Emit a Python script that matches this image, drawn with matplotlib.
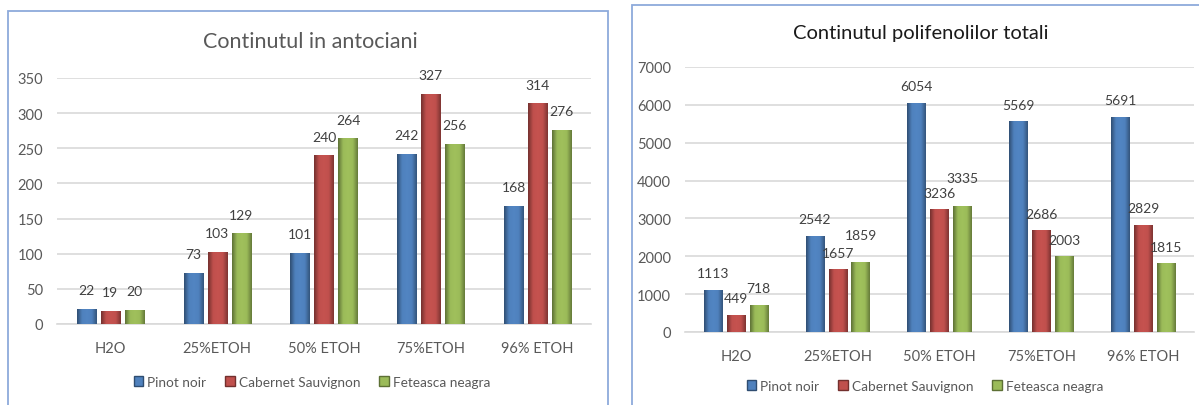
import numpy as np
import matplotlib
matplotlib.use("Agg")
import matplotlib.pyplot as plt
from matplotlib.colors import LinearSegmentedColormap, to_rgb
from matplotlib.patches import Rectangle, Patch

plt.rcParams["font.family"] = ["Lato", "DejaVu Sans"]

categories = ["H2O", "25%ETOH", "50% ETOH", "75%ETOH", "96% ETOH"]
series_names = ["Pinot noir", "Cabernet Sauvignon", "Feteasca neagra"]

antociani_pinot = [22, 73, 101, 242, 168]
antociani_cabernet = [19, 103, 240, 327, 314]
antociani_feteasca = [20, 129, 264, 256, 276]

polifenoli_pinot = [1113, 2542, 6054, 5569, 5691]
polifenoli_cabernet = [449, 1657, 3236, 2686, 2829]
polifenoli_feteasca = [718, 1859, 3335, 2003, 1815]

colors = ["#4F81BD", "#C0504D", "#9BBB59"]
text_gray = "#595959"
label_gray = "#404040"
frame_blue = "#8EAADB"


def shade(c, f):
    r, g, b = to_rgb(c)
    return (min(r * f, 1), min(g * f, 1), min(b * f, 1))


def bevel_bars(ax, bars, color):
    # horizontal gradient to fake the Excel bevel look
    cmap = LinearSegmentedColormap.from_list(
        "bev", [shade(color, 0.6), color, shade(color, 1.03), color, shade(color, 0.65)])
    grad = np.linspace(0, 1, 64).reshape(1, -1)
    for p in bars:
        x0, y0 = p.get_x(), p.get_y()
        w, h = p.get_width(), p.get_height()
        p.set_facecolor("none")
        p.set_edgecolor("none")
        im = ax.imshow(grad, cmap=cmap, aspect="auto", extent=[x0, x0 + w, y0, y0 + h],
                       interpolation="bicubic", zorder=3)
        im.set_clip_path(p)


def draw_chart(ax, data, ymax, ystep, label_off, nudges=None):
    nudges = nudges or {}
    x = np.arange(len(categories))
    width = 0.18
    step = 0.225
    for i, (vals, c) in enumerate(zip(data, colors)):
        bars = ax.bar(x + (i - 1) * step, vals, width, color=c, zorder=3)
        bevel_bars(ax, bars, c)
        for j, (xi, v) in enumerate(zip(x + (i - 1) * step, vals)):
            ax.annotate(str(v), (xi, v), xytext=(0, label_off + nudges.get((j, i), 0)),
                        textcoords="offset points",
                        ha="center", va="center", fontsize=10, color=label_gray)
    ax.set_xlim(-0.5, len(categories) - 0.5)
    ax.set_ylim(0, ymax)
    ax.set_yticks(np.arange(0, ymax + 1, ystep))
    ax.set_xticks(x)
    ax.set_xticklabels(categories)
    ax.yaxis.grid(True, color="#D9D9D9", linewidth=1.2, zorder=0)
    ax.set_axisbelow(True)
    for s in ["top", "right", "left"]:
        ax.spines[s].set_visible(False)
    ax.spines["bottom"].set_color("#D9D9D9")
    ax.spines["bottom"].set_linewidth(1.2)
    ax.tick_params(axis="both", length=0, colors=text_gray, labelsize=10.5)
    ax.tick_params(axis="x", pad=12)
    ax.tick_params(axis="y", pad=10)


fig = plt.figure(figsize=(11.99, 4.06), dpi=100)
W, H = 1199, 406

# frames around each chart
fig.patches.append(Rectangle((8 / W, -0.02), 600 / W, (406 - 12) / H + 0.02,
                             transform=fig.transFigure, fill=False, edgecolor=frame_blue, linewidth=1.3))
fig.patches.append(Rectangle((632 / W, -0.02), 600 / W, (406 - 6) / H + 0.02,
                             transform=fig.transFigure, fill=False, edgecolor=frame_blue, linewidth=1.3))

ax1 = fig.add_axes([57 / W, (H - 325) / H, (591 - 57) / W, (325 - 79) / H])
draw_chart(ax1, [antociani_pinot, antociani_cabernet, antociani_feteasca], 350, 50, 13.5)
ax2 = fig.add_axes([685 / W, (H - 333) / H, (1194 - 685) / W, (333 - 68) / H])
draw_chart(ax2, [polifenoli_pinot, polifenoli_cabernet, polifenoli_feteasca], 7000, 1000, 12,
           nudges={(1, 2): 7, (2, 2): 8})

fig.text(310 / W, 1 - 42 / H, "Continutul in antociani", ha="center", va="center",
         fontsize=15.5, color=text_gray)
fig.text(921 / W, 1 - 34 / H, "Continutul polifenolilor totali", ha="center", va="center",
         fontsize=14.5, color="#1a1a1a")

handles = [Patch(facecolor=c, edgecolor=shade(c, 0.6)) for c in colors]
for cx, cy in [(312, 383), (925, 387)]:
    fig.legend(handles, series_names, loc="center", bbox_to_anchor=(cx / W, 1 - cy / H),
               ncol=3, frameon=False, fontsize=9.8, labelcolor=text_gray,
               handlelength=0.7, handleheight=0.7, handletextpad=0.3, columnspacing=1.4)

fig.savefig("out.png", dpi=100)
